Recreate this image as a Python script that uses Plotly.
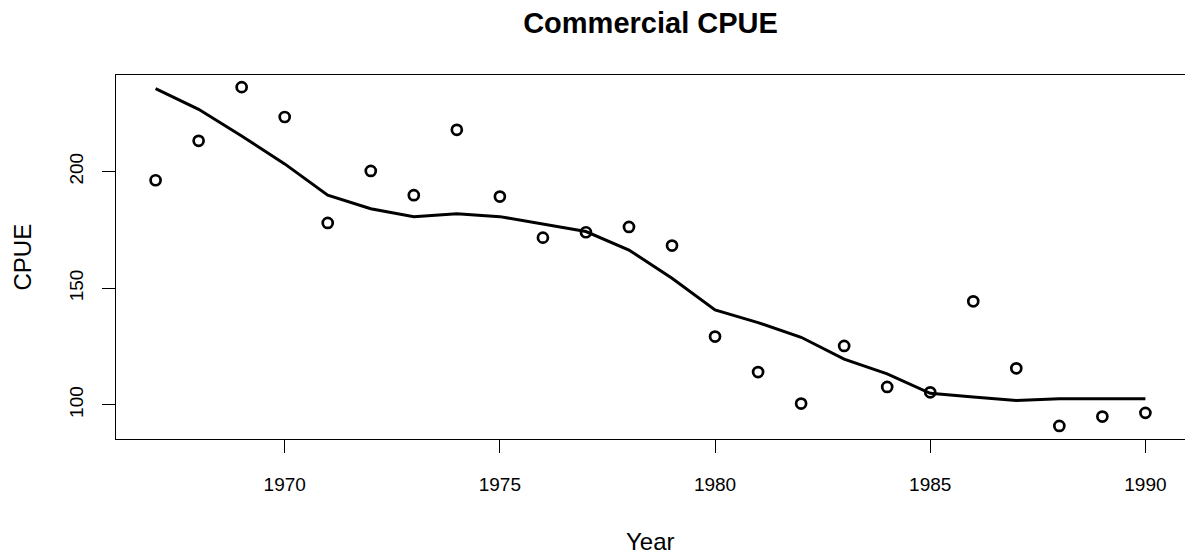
import plotly.graph_objects as go

years = list(range(1967, 1991))
cpue = [196.3, 213.2, 236.2, 223.4, 178.0, 200.3, 189.9, 217.9, 189.3, 171.7,
        174.0, 176.3, 168.3, 129.3, 114.1, 100.6, 125.3, 107.7, 105.4, 144.4,
        115.7, 91.0, 95.0, 96.6]
fitted = [235.6, 226.7, 215.3, 203.3, 189.9, 184.1, 180.7, 181.9, 180.7, 177.6,
          174.3, 166.4, 154.3, 140.7, 135.3, 129.0, 119.6, 113.3, 105.0, 103.4,
          101.9, 102.6, 102.6, 102.6]
x_ticks = [1970, 1975, 1980, 1985, 1990]
y_ticks = [100, 150, 200]

FONT = "Liberation Sans, Arial, Helvetica, sans-serif"

W, H = 1185, 559
L, T = 116, 75
B = H - 439
plot_h = 439 - 75
plot_w = W - L

fig = go.Figure()
fig.add_trace(go.Scatter(x=years, y=fitted, mode="lines",
                         line=dict(color="black", width=3), showlegend=False))
fig.add_trace(go.Scatter(x=years, y=cpue, mode="markers",
                         marker=dict(symbol="circle-open", size=10, color="black",
                                     line=dict(color="black", width=2.7)),
                         showlegend=False))

fig.update_layout(
    width=W, height=H,
    margin=dict(l=L, r=0, t=T, b=B, pad=0),
    paper_bgcolor="white", plot_bgcolor="white",
    font=dict(family=FONT, size=19, color="black"),
    hovermode=False,
    title=dict(text="<b>Commercial CPUE</b>", x=0.5, xref="paper", xanchor="center",
               y=1 - 23 / H, yref="container", yanchor="middle",
               font=dict(size=29, family=FONT, color="black")),
    xaxis=dict(range=[1966.08, 1990.92], tickvals=x_ticks, ticks="outside",
               ticklen=13, tickwidth=1, tickcolor="black", showgrid=False,
               zeroline=False, showline=True, linecolor="black", linewidth=1,
               mirror=True, ticklabelstandoff=15,
               tickfont=dict(size=19, family=FONT)),
    yaxis=dict(range=[85.4, 241.4], tickvals=y_ticks, ticks="outside",
               ticklen=13, tickwidth=1, tickcolor="black", showgrid=False,
               zeroline=False, showline=True, linecolor="black", linewidth=1,
               mirror=True, tickangle=-90, ticklabelstandoff=11,
               tickfont=dict(size=19, family=FONT)),
    annotations=[
        dict(text="Year", xref="paper", yref="paper", x=0.5,
             y=-(541 - 439) / plot_h, xanchor="center", yanchor="middle",
             showarrow=False, font=dict(size=24, family=FONT)),
        dict(text="CPUE", xref="paper", yref="paper", x=(22 - 116) / plot_w,
             y=(439 - 256.5) / plot_h, xanchor="center", yanchor="middle",
             textangle=-90, showarrow=False, font=dict(size=24, family=FONT)),
    ],
)

fig.write_html(
    "out.html",
    config={"displayModeBar": False, "staticPlot": True},
    post_script="document.body.style.margin='0';"
                "document.documentElement.style.overflow='hidden';"
                "document.body.style.overflow='hidden';",
)
